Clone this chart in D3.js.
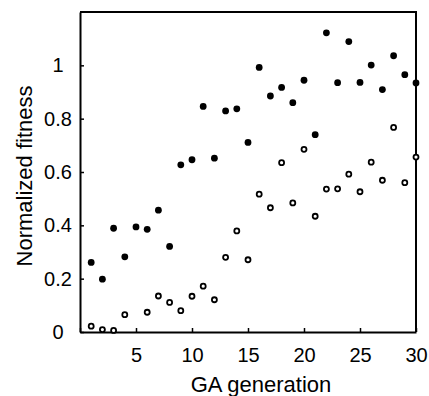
<!DOCTYPE html>
<html>
<head>
<meta charset="utf-8">
<script src="https://cdn.jsdelivr.net/npm/d3@7"></script>
<style>
  body { margin: 0; background: #fff; }
  text { font-family: "Liberation Sans", Arial, sans-serif; fill: #000; }
</style>
</head>
<body>
<div id="chart"></div>
<script>
// data
const generations = d3.range(1, 31);
const filledFitness = [0.261, 0.198, 0.389, 0.282, 0.394, 0.385, 0.457, 0.321, 0.627, 0.646,
                       0.846, 0.652, 0.829, 0.837, 0.711, 0.992, 0.885, 0.917, 0.860, 0.944,
                       0.740, 1.122, 0.935, 1.089, 0.936, 1.001, 0.909, 1.036, 0.965, 0.934];
const openFitness = [0.022, 0.009, 0.006, 0.065, null, 0.074, 0.135, 0.111, 0.080, 0.134,
                     0.172, 0.121, 0.280, 0.379, 0.271, 0.517, 0.466, 0.635, 0.484, 0.685,
                     0.434, 0.536, 0.537, 0.592, 0.526, 0.637, 0.569, 0.767, 0.560, 0.656];
const xTicks = [0, 5, 10, 15, 20, 25, 30];
const yTicks = [0, 0.2, 0.4, 0.6, 0.8, 1];

const width = 429;
const height = 396;
const margin = { top: 12, right: 13, bottom: 64, left: 80 };

const x = d3.scaleLinear().domain([0, 30]).range([margin.left, width - margin.right]);
const y = d3.scaleLinear().domain([0, 1.2]).range([height - margin.bottom, margin.top]);

const svg = d3.select('#chart')
    .append('svg')
    .attr('width', width)
    .attr('height', height);

// frame: top and right
svg.append('path')
    .attr('d', `M${x(0)},${y(1.2)}H${x(30)}V${y(0)}`)
    .attr('fill', 'none')
    .attr('stroke', '#000')
    .attr('stroke-width', 2);

const xAxis = svg.append('g')
    .attr('transform', `translate(0,${y(0)})`)
    .call(d3.axisBottom(x)
        .tickValues(xTicks)
        .tickSizeInner(-4)
        .tickSizeOuter(0)
        .tickPadding(16)
        .tickFormat(d => d === 0 ? '' : d));

const yAxis = svg.append('g')
    .attr('transform', `translate(${x(0)},0)`)
    .call(d3.axisLeft(y)
        .tickValues(yTicks)
        .tickSizeInner(-4)
        .tickSizeOuter(0)
        .tickPadding(22)
        .tickFormat(d => d === 0 ? '0' : d === 1 ? '1' : d3.format('.1f')(d)));

[xAxis, yAxis].forEach(g => {
    g.select('.domain').attr('stroke-width', 2);
    g.selectAll('.tick line').attr('stroke-width', 1.5);
    g.selectAll('.tick text').style('font-size', '20px');
});
yAxis.selectAll('.tick text').attr('text-anchor', 'middle');

// filled points
svg.append('g')
    .selectAll('circle')
    .data(generations.map((g, i) => ({ g, v: filledFitness[i] })))
    .enter()
    .append('circle')
    .attr('cx', d => x(d.g))
    .attr('cy', d => y(d.v))
    .attr('r', 3.4)
    .attr('fill', '#000');

// open points
svg.append('g')
    .selectAll('circle')
    .data(generations.map((g, i) => ({ g, v: openFitness[i] })).filter(d => d.v !== null))
    .enter()
    .append('circle')
    .attr('cx', d => x(d.g))
    .attr('cy', d => y(d.v))
    .attr('r', 2.5)
    .attr('fill', '#fff')
    .attr('stroke', '#000')
    .attr('stroke-width', 1.8);

// axis titles
svg.append('text')
    .attr('x', (x(0) + x(30)) / 2 + 13)
    .attr('y', 392)
    .attr('text-anchor', 'middle')
    .style('font-size', '22px')
    .text('GA generation');

svg.append('text')
    .attr('transform', `translate(32,${(y(0) + y(1.2)) / 2 + 4}) rotate(-90)`)
    .attr('text-anchor', 'middle')
    .style('font-size', '22px')
    .text('Normalized fitness');
</script>
</body>
</html>
